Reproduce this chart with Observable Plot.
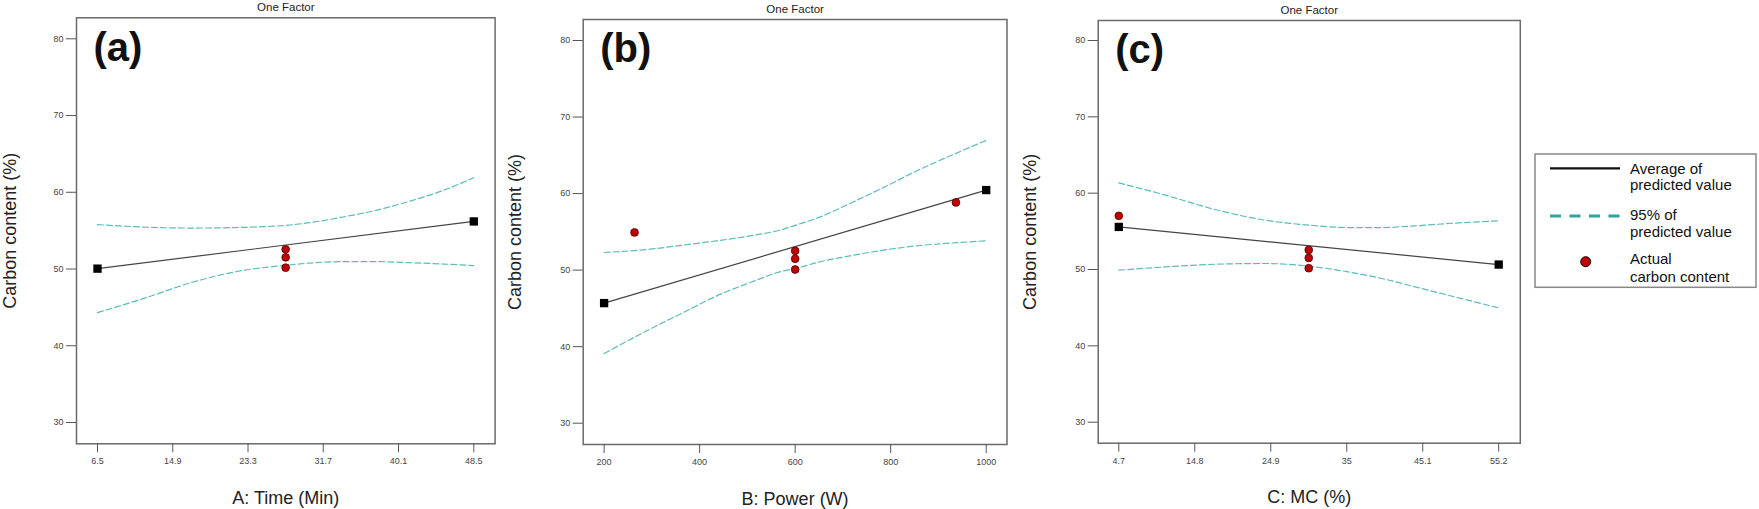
<!DOCTYPE html>
<html><head><meta charset="utf-8">
<script src="https://cdn.jsdelivr.net/npm/d3@7"></script>
<script src="https://cdn.jsdelivr.net/npm/@observablehq/plot@0.6"></script>
<style>
body{margin:0;background:#fff;}
#wrap{position:relative;width:1759px;height:509px;background:#fff;font-family:'Liberation Sans',Arial,sans-serif;}
#wrap svg{position:absolute;top:0;overflow:visible;}
</style></head><body><div id="wrap"></div>
<script>
// ---- shared ----
const yTicks = [30, 40, 50, 60, 70, 80];
const panelTitle = "One Factor";
const yLabel = "Carbon content (%)";

// ---- (a) Time ----
const timeTicks = [6.5, 14.9, 23.3, 31.7, 40.1, 48.5];
const timePredX = [6.5, 48.5];
const timePred = [50.05, 56.2];
const timeActualX = [27.5, 27.5, 27.5];
const timeActual = [52.57, 51.52, 50.18];
const timeCiX = [6.5, 11.6, 17.2, 22.8, 27.5, 30.2, 33.9, 37.6, 41.3, 45.1, 48.5];
const timeUpper = [55.78, 55.47, 55.34, 55.43, 55.69, 56.04, 56.78, 57.65, 58.82, 60.25, 61.9];
const timeLower = [44.32, 46.14, 48.31, 49.83, 50.48, 50.78, 50.96, 50.96, 50.83, 50.65, 50.45];

// ---- (b) Power ----
const powerTicks = [200, 400, 600, 800, 1000];
const powerPredX = [200, 1000];
const powerPred = [45.69, 60.46];
const powerActualX = [263.7, 600, 600, 600, 936.6];
const powerActual = [54.92, 52.52, 51.48, 50.08, 58.84];
const powerCiX = [200, 296, 366, 436, 506, 576, 600, 646, 715, 785, 855, 925, 1000];
const powerUpper = [52.3, 52.74, 53.27, 53.83, 54.48, 55.36, 55.85, 56.8, 58.71, 60.8, 62.98, 64.94, 66.95];
const powerLower = [39.1, 42.29, 44.46, 46.64, 48.38, 49.91, 50.21, 51.0, 51.87, 52.61, 53.18, 53.53, 53.83];

// ---- (c) MC ----
const mcTicks = [4.7, 14.8, 24.9, 35, 45.1, 55.2];
const mcPredX = [4.7, 55.2];
const mcPred = [55.58, 50.65];
const mcActualX = [4.7, 29.95, 29.95, 29.95];
const mcActual = [57.03, 52.57, 51.52, 50.17];
const mcCiX = [4.7, 10.9, 17.5, 24.2, 30.0, 35.2, 39.7, 44.1, 48.5, 55.2];
const mcUpper = [61.35, 59.74, 57.86, 56.46, 55.81, 55.5, 55.5, 55.72, 56.03, 56.37];
const mcLower = [49.91, 50.34, 50.69, 50.79, 50.43, 49.69, 48.82, 47.72, 46.63, 44.97];

// ---- legend ----
const legendLabels = [["Average of", "predicted value"], ["95% of", "predicted value"], ["Actual", "carbon content"]];

const panels = [
  {left: 0, width: 500, mL: 76, mR: 5.4, mT: 17.3, mB: 65.7, iL: 21, iR: 21.3, iT: 21, iB: 21.3,
   ticks: timeTicks, xLabel: "A: Time (Min)", tag: "(a)", yDx: -66,
   predX: timePredX, pred: timePred, actX: timeActualX, act: timeActual, ciX: timeCiX, up: timeUpper, lo: timeLower},
  {left: 500, width: 510, mL: 82.7, mR: 3.5, mT: 19, mB: 65, iL: 20.9, iR: 20.8, iT: 21, iB: 21.3,
   ticks: powerTicks, xLabel: "B: Power (W)", tag: "(b)", yDx: -68.4,
   predX: powerPredX, pred: powerPred, actX: powerActualX, act: powerActual, ciX: powerCiX, up: powerUpper, lo: powerLower},
  {left: 1010, width: 515, mL: 87.7, mR: 5.2, mT: 20, mB: 66.3, iL: 20.6, iR: 21.6, iT: 20, iB: 21,
   ticks: mcTicks, xLabel: "C: MC (%)", tag: "(c)", yDx: -67.7,
   predX: mcPredX, pred: mcPred, actX: mcActualX, act: mcActual, ciX: mcCiX, up: mcUpper, lo: mcLower}
];

const wrap = document.getElementById("wrap");
const ciStyle = {stroke: "#5cbcbc", strokeWidth: 1.2, strokeDasharray: "6,3", curve: "monotone-x"};

for (const p of panels) {
  const t = p.ticks;
  const chart = Plot.plot({
    width: p.width, height: 509,
    marginLeft: p.mL, marginRight: p.mR, marginTop: p.mT, marginBottom: p.mB,
    x: {domain: [t[0], t[t.length - 1]], insetLeft: p.iL, insetRight: p.iR},
    y: {domain: [30, 80], insetTop: p.iT, insetBottom: p.iB},
    style: {fontFamily: "'Liberation Sans', Arial, sans-serif", background: "transparent", overflow: "visible"},
    marks: [
      Plot.frame({stroke: "#6a6a6a", strokeWidth: 1.5}),
      Plot.axisY({ticks: yTicks, tickSize: 10, tickPadding: 3, fontSize: 9, stroke: "#555", fill: "#444", label: null, tickFormat: d => String(d)}),
      Plot.axisX({ticks: t, tickSize: 9, tickPadding: 5, fontSize: 9, stroke: "#555", fill: "#444", label: null, tickFormat: d => String(d)}),
      Plot.line(p.ciX, {x: d => d, y: (d, i) => p.up[i], ...ciStyle}),
      Plot.line(p.ciX, {x: d => d, y: (d, i) => p.lo[i], ...ciStyle}),
      Plot.line(p.predX, {x: d => d, y: (d, i) => p.pred[i], stroke: "#444", strokeWidth: 1.2}),
      Plot.dot(p.actX, {x: d => d, y: (d, i) => p.act[i], r: 3.9, fill: "#c00000", stroke: "#3a0000", strokeWidth: 0.7}),
      Plot.dot(p.predX, {x: d => d, y: (d, i) => p.pred[i], symbol: "square", r: 4.7, fill: "#000"}),
      Plot.text([panelTitle], {text: d => d, frameAnchor: "top", lineAnchor: "middle", textAnchor: "middle", dy: -10.5, fontSize: 11.5, fill: "#222"}),
      Plot.text([p.tag], {text: d => d, frameAnchor: "top-left", lineAnchor: "middle", textAnchor: "start", dx: 17, dy: 30, fontSize: 40, fontWeight: "bold", fill: "#111"}),
      Plot.text([yLabel], {text: d => d, frameAnchor: "left", lineAnchor: "middle", textAnchor: "middle", dx: p.yDx, rotate: -90, fontSize: 18, fill: "#222"}),
      Plot.text([p.xLabel], {text: d => d, frameAnchor: "bottom", lineAnchor: "middle", textAnchor: "middle", dy: 54.4, fontSize: 18, fill: "#222"})
    ]
  });
  chart.style.left = p.left + "px";
  wrap.appendChild(chart);
}

// legend
const lg = d3.create("svg").attr("width", 239).attr("height", 160)
  .style("left", "1520px").style("top", "140px");
lg.append("rect").attr("x", 15).attr("y", 14).attr("width", 221).attr("height", 133.3)
  .attr("fill", "#fff").attr("stroke", "#888").attr("stroke-width", 1.5);
lg.append("line").attr("x1", 30).attr("x2", 100).attr("y1", 28.3).attr("y2", 28.3)
  .attr("stroke", "#111").attr("stroke-width", 2.2);
lg.append("line").attr("x1", 30).attr("x2", 100).attr("y1", 76).attr("y2", 76)
  .attr("stroke", "#2fa3a3").attr("stroke-width", 3).attr("stroke-dasharray", "11,8.5");
lg.append("circle").attr("cx", 65.7).attr("cy", 121.7).attr("r", 5)
  .attr("fill", "#c00000").attr("stroke", "#200").attr("stroke-width", 1);
const rowY = [[28.3, 45], [75, 91.7], [118.3, 136.7]];
legendLabels.forEach((lines, i) => {
  lines.forEach((s, j) => {
    lg.append("text").attr("x", 110).attr("y", rowY[i][j]).attr("dy", "0.35em")
      .attr("font-size", 15).attr("fill", "#111")
      .attr("font-family", "'Liberation Sans', Arial, sans-serif").text(s);
  });
});
wrap.appendChild(lg.node());
</script></body></html>
